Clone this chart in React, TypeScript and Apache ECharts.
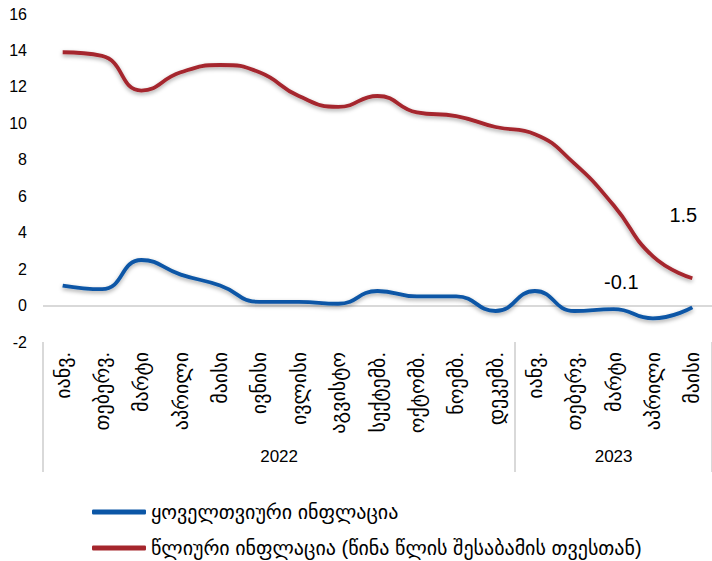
import React, { useEffect, useRef } from "react";
import * as echarts from "echarts";

const months = [
  "იანვ.", "თებერვ.", "მარტი", "აპრილი", "მაისი", "ივნისი", "ივლისი", "აგვისტო",
  "სექტემბ.", "ოქტომბ.", "ნოემბ.", "დეკემბ.",
  "იანვ.", "თებერვ.", "მარტი", "აპრილი", "მაისი",
];
const years = ["2022", "2023"];
const yearCenters = [6, 14.5];
const yearBounds = [0, 12, 17];
const monthly = [1.1, 0.9, 2.5, 1.7, 1.1, 0.2, 0.2, 0.1, 0.8, 0.5, 0.5, -0.3, 0.8, -0.3, -0.2, -0.7, -0.1];
const annual = [13.9, 13.7, 11.8, 12.8, 13.2, 12.8, 11.5, 10.9, 11.5, 10.6, 10.4, 9.8, 9.4, 7.8, 5.5, 2.7, 1.5];
const monthlyName = "ყოველთვიური ინფლაცია";
const annualName = "წლიური ინფლაცია (წინა წლის შესაბამის თვესთან)";

const FONT = "'Liberation Sans', Arial, 'DejaVu Sans', sans-serif";
const BLUE = "#0B56A6";
const RED = "#A5262D";

function withLastLabel(values: number[], offset: number[]) {
  return values.map((v, i) =>
    i === values.length - 1
      ? {
          value: v,
          label: {
            show: true,
            position: "inside",
            offset,
            fontSize: 20,
            color: "#000",
            fontFamily: FONT,
            formatter: (p: any) => String(p.value),
          },
        }
      : v
  );
}

export default function App() {
  const ref = useRef<HTMLDivElement>(null);
  useEffect(() => {
    if (!ref.current) return;
    const chart = echarts.init(ref.current, null, { renderer: "svg" });
    const shadow = { shadowColor: "rgba(0,0,0,0.35)", shadowBlur: 4, shadowOffsetY: 2 };
    chart.setOption({
      animation: false,
      textStyle: { fontFamily: FONT },
      grid: { left: 43, right: -4, top: 14, bottom: 219, containLabel: false },
      legend: {
        orient: "vertical",
        left: 92,
        top: 502,
        padding: 0,
        itemWidth: 54,
        itemHeight: 5,
        itemGap: 16,
        icon: "roundRect",
        textStyle: { fontSize: 20, color: "#000", fontFamily: FONT },
        data: [monthlyName, annualName],
      },
      xAxis: [
        {
          type: "category",
          data: months,
          boundaryGap: true,
          position: "bottom",
          axisLine: { show: false, onZero: false },
          axisTick: { show: false },
          axisLabel: { rotate: 90, fontSize: 20, color: "#000", margin: 10, interval: 0 },
        },
        {
          type: "value",
          min: 0,
          max: 17,
          position: "bottom",
          axisLine: { show: false, onZero: false },
          splitLine: { show: false },
          axisTick: {
            show: true,
            customValues: yearBounds,
            length: 130,
            lineStyle: { color: "#d9d9d9", width: 2 },
          },
          axisLabel: {
            customValues: yearCenters,
            fontSize: 17,
            color: "#000",
            margin: 106,
            formatter: (v: number) => years[yearCenters.indexOf(v)] ?? "",
          },
        },
      ],
      yAxis: {
        type: "value",
        min: -2,
        max: 16,
        interval: 2,
        axisLine: { show: false },
        axisTick: { show: false },
        splitLine: { show: false },
        axisLabel: { fontSize: 16, color: "#000", margin: 16 },
      },
      series: [
        {
          name: monthlyName,
          type: "line",
          xAxisIndex: 0,
          smooth: 0.5,
          symbol: "circle",
          symbolSize: 0,
          showSymbol: true,
          color: BLUE,
          lineStyle: { width: 3.8, color: BLUE, ...shadow },
          data: withLastLabel(monthly, [-71, -25]),
          markLine: {
            silent: true,
            symbol: "none",
            label: { show: false },
            lineStyle: { color: "#d9d9d9", width: 2, type: "solid" },
            data: [{ yAxis: 0 }],
            z: 1,
          },
          z: 3,
        },
        {
          name: annualName,
          type: "line",
          xAxisIndex: 0,
          smooth: 0.5,
          symbol: "circle",
          symbolSize: 0,
          showSymbol: true,
          color: RED,
          lineStyle: { width: 3.8, color: RED, ...shadow },
          data: withLastLabel(annual, [-9, -63]),
          z: 3,
        },
      ],
    });
    return () => chart.dispose();
  }, []);
  return (
    <div
      ref={ref}
      style={{ position: "fixed", left: 0, top: 0, width: 712, height: 561, background: "#fff" }}
    />
  );
}
